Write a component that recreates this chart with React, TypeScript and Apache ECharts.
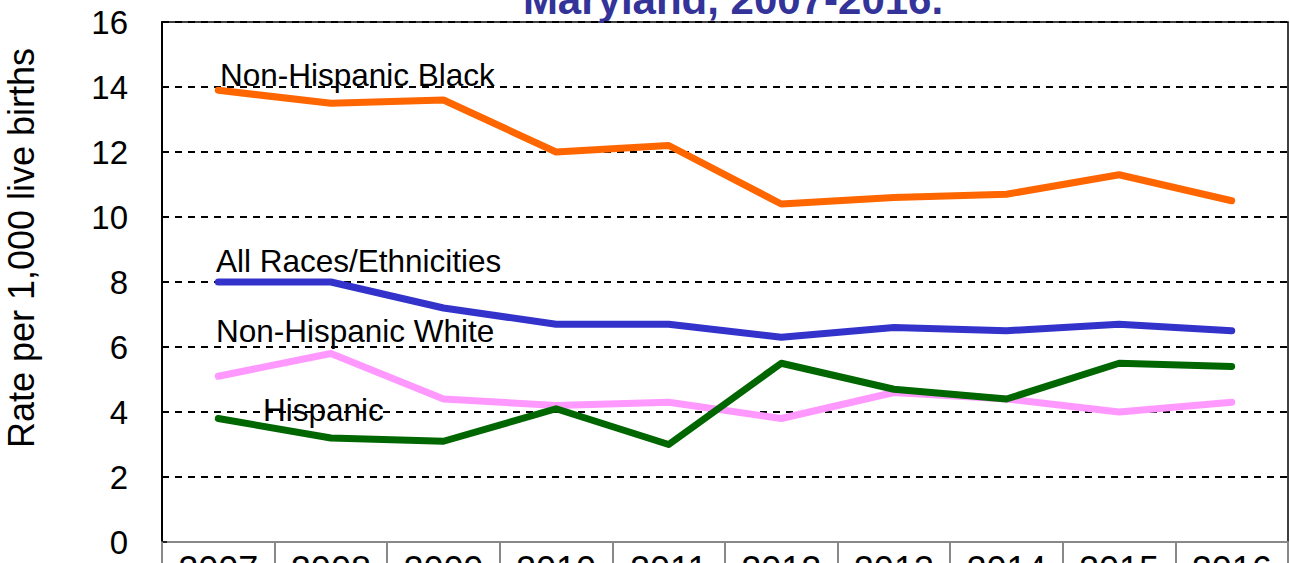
import React, { useEffect, useRef } from "react";
import * as echarts from "echarts";

const years = ["2007", "2008", "2009", "2010", "2011", "2012", "2013", "2014", "2015", "2016"];
const nhBlack = [13.9, 13.5, 13.6, 12.0, 12.2, 10.4, 10.6, 10.7, 11.3, 10.5];
const allRaces = [8.0, 8.0, 7.2, 6.7, 6.7, 6.3, 6.6, 6.5, 6.7, 6.5];
const nhWhite = [5.1, 5.8, 4.4, 4.2, 4.3, 3.8, 4.6, 4.4, 4.0, 4.3];
const hispanic = [3.8, 3.2, 3.1, 4.1, 3.0, 5.5, 4.7, 4.4, 5.5, 5.4];

const titleText = "Maryland, 2007-2016.";
const yAxisTitle = "Rate per 1,000 live births";
const seriesNames = ["Non-Hispanic Black", "All Races/Ethnicities", "Non-Hispanic White", "Hispanic"];
const seriesColors = ["#FF6600", "#3333CC", "#FF99FF", "#006600"];
const seriesData = [nhBlack, allRaces, nhWhite, hispanic];

const FONT = "Arial, 'Liberation Sans', Helvetica, sans-serif";

export default function App() {
  const ref = useRef<HTMLDivElement>(null);
  useEffect(() => {
    if (!ref.current) return;
    const chart = echarts.init(ref.current, undefined, { renderer: "svg" });
    const labelPos = [
      { x: 220, y: 75 },
      { x: 216, y: 261 },
      { x: 216, y: 331 },
      { x: 263, y: 410 },
    ];
    chart.setOption({
      animation: false,
      backgroundColor: "#ffffff",
      grid: {
        left: 162,
        right: 2,
        top: 22,
        bottom: 21,
        show: true,
        borderColor: "#000000",
        borderWidth: 1.5,
        backgroundColor: "transparent",
        containLabel: false,
        outerBoundsMode: "none",
      },
      xAxis: {
        type: "category",
        data: years,
        boundaryGap: true,
        axisLine: { show: true, lineStyle: { color: "#888888", width: 2 } },
        axisTick: { show: true, interval: 0, length: 40, lineStyle: { color: "#888888", width: 2 } },
        axisLabel: { interval: 0, fontSize: 36, color: "#000000", fontFamily: FONT, margin: 9 },
        splitLine: { show: false },
      },
      yAxis: {
        type: "value",
        min: 0,
        max: 16,
        interval: 2,
        axisLine: { show: true, lineStyle: { color: "#000000", width: 2 } },
        axisTick: { show: true, inside: true, length: 5, lineStyle: { color: "#000000", width: 1.5 } },
        axisLabel: { fontSize: 33, color: "#000000", fontFamily: FONT, margin: 34 },
        splitLine: { show: true, lineStyle: { color: "#000000", width: 2, type: [7, 6] } },
      },
      series: seriesNames.map((name, i) => ({
        name,
        type: "line",
        data: seriesData[i],
        symbol: "none",
        lineStyle: { color: seriesColors[i], width: 7, cap: "round", join: "round" },
        itemStyle: { color: seriesColors[i] },
        z: 3 + i,
      })),
      graphic: [
        {
          type: "text",
          x: 733,
          y: -1,
          style: {
            text: titleText,
            fontSize: 42,
            fontWeight: "bold",
            fontFamily: FONT,
            fill: "#333399",
            align: "center",
            verticalAlign: "middle",
          },
        },
        {
          type: "text",
          x: 21,
          y: 248,
          rotation: Math.PI / 2,
          style: {
            text: yAxisTitle,
            fontSize: 36,
            fontFamily: FONT,
            fill: "#000000",
            align: "center",
            verticalAlign: "middle",
          },
        },
        ...seriesNames.map((name, i) => ({
          type: "text",
          x: labelPos[i].x,
          y: labelPos[i].y,
          z: 10,
          style: {
            text: name,
            fontSize: 31.5,
            fontFamily: FONT,
            fill: "#000000",
            align: "left",
            verticalAlign: "middle",
          },
        })),
      ],
    });
    return () => chart.dispose();
  }, []);
  return (
    <div
      ref={ref}
      style={{ position: "absolute", left: 0, top: 0, width: 1290, height: 563, background: "#fff" }}
    />
  );
}
